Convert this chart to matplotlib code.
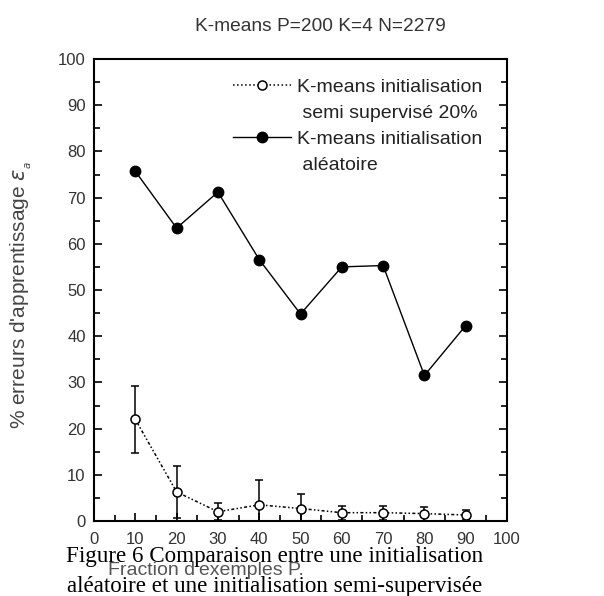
import matplotlib.pyplot as plt
import numpy as np
from matplotlib.ticker import MultipleLocator
from matplotlib.lines import Line2D

# fraction d'exemples (%)
fractions = [10, 20, 30, 40, 50, 60, 70, 80, 90]
# erreurs, initialisation semi supervisee 20%
err_semi = [22.0, 6.3, 2.0, 3.5, 2.7, 1.8, 1.8, 1.6, 1.3]
err_semi_sd = [7.2, 5.6, 1.8, 5.3, 3.2, 1.5, 1.5, 1.5, 1.0]
# erreurs, initialisation aleatoire
err_alea = [75.7, 63.4, 71.2, 56.6, 44.8, 55.0, 55.3, 31.5, 42.3]

plt.rcParams['font.family'] = ['Liberation Sans', 'DejaVu Sans']

fig = plt.figure(figsize=(6.04, 5.96), dpi=100)
ax = fig.add_axes([94 / 604, 1 - 521 / 596, 413 / 604, 462 / 596])

semi_ls = (0, (2, 1.5, 1, 1.5, 1, 1.5))
ax.errorbar(fractions, err_semi, yerr=err_semi_sd, color='black', lw=1.1,
            ls=semi_ls, marker='o', ms=6.5, mfc='white',
            mec='black', mew=1.1, capsize=3, elinewidth=1.1)
h2, = ax.plot(fractions, err_alea, color='black', lw=1.0, marker='o', ms=7.5)

# legende : poignee sur la premiere ligne de chaque entree
h1 = Line2D([], [], color='black', lw=1.1, ls=':', marker='o', ms=6.5,
            mfc='white', mec='black', mew=1.1)
blank = Line2D([], [], color='none')
leg = ax.legend([h1, blank, h2, blank],
                ["K-means initialisation", " semi supervisé 20%",
                 "K-means initialisation", " aléatoire"],
                loc='upper left', bbox_to_anchor=(0.318, 0.975), frameon=False,
                fontsize=14, handlelength=3.0, handletextpad=0.3,
                labelspacing=0.44, borderaxespad=0)
for t in leg.get_texts():
    t.set_color('#222222')

ax.set_xlim(0, 100)
ax.set_ylim(0, 100)
ax.xaxis.set_major_locator(MultipleLocator(10))
ax.xaxis.set_minor_locator(MultipleLocator(5))
ax.yaxis.set_major_locator(MultipleLocator(10))
ax.yaxis.set_minor_locator(MultipleLocator(5))
ax.tick_params(which='both', direction='in', right=True, top=False,
               labelsize=12, labelcolor='#333333', width=1.2)
ax.tick_params(which='major', length=6)
ax.tick_params(which='minor', length=4)
ax.tick_params(axis='y', pad=6)
ax.tick_params(axis='x', pad=8)
for s in ax.spines.values():
    s.set_linewidth(1.5)

fig.text(0.53, 0.955, "K-means P=200 K=4 N=2279", ha='center', va='center',
         fontsize=13.8, color='#333333')
fig.text(0.035, 0.505, "% erreurs d'apprentissage $\\varepsilon_{_a}$", rotation=90,
         ha='center', va='center', fontsize=15, color='#444444')
fig.text(0.179, 0.042, "Fraction d'exemples P.", ha='left', va='center',
         fontsize=14, color='#555555')

# legende de la figure
fig.text(0.455, 0.041, "Figure 6 Comparaison entre une initialisation\n"
         "aléatoire et une initialisation semi-supervisée",
         ha='center', va='center', fontsize=16.6, family='Liberation Serif',
         linespacing=1.55, color='black')

fig.savefig('out.png', dpi=100)
